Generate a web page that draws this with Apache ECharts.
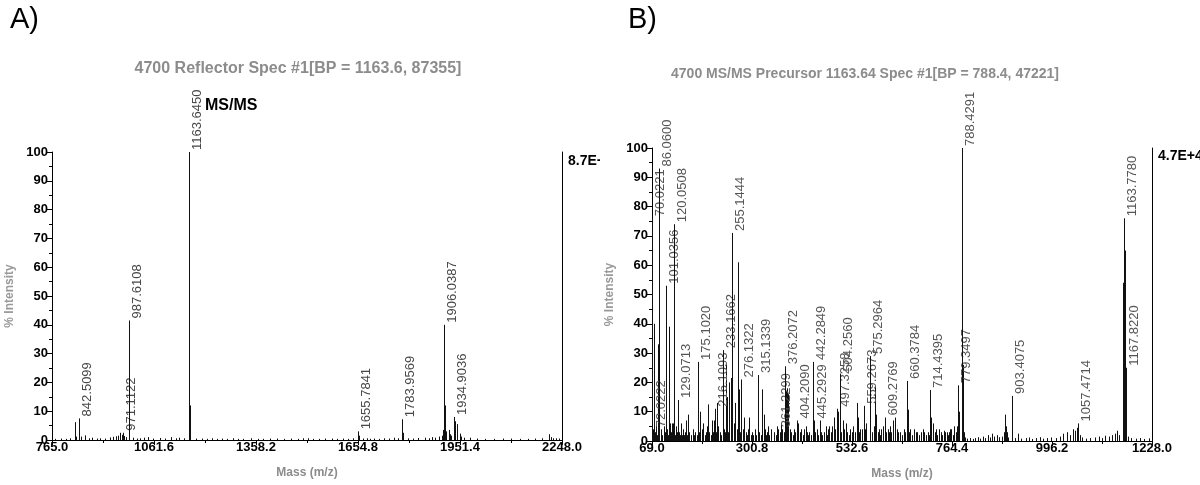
<!DOCTYPE html>
<html>
<head>
<meta charset="utf-8">
<script src="https://cdn.jsdelivr.net/npm/echarts@6/dist/echarts.min.js"></script>
<style>
    html, body { margin: 0; padding: 0; background: #fff; }
    .wrap { position: relative; width: 1200px; height: 485px; overflow: hidden; }
    .chart { position: absolute; top: 0; width: 600px; height: 485px; }
    .chartA { left: 0; }
    .chartB { left: 600px; }
</style>
</head>
<body>
<div class="wrap">
    <div id="chartA" class="chart chartA"></div>
    <div id="chartB" class="chart chartB"></div>
</div>
<script>
// ---- panel A: reflector MS spectrum ----
var ticksA = [765.0, 1061.6, 1358.2, 1654.8, 1951.4, 2248.0];
// labelled peaks [m/z, % intensity]
var labeledA = [
    [842.5099, 7.5], [971.1122, 2.5], [987.6108, 41.5], [1163.6450, 100],
    [1655.7841, 3], [1783.9569, 7.2], [1906.0387, 40], [1934.9036, 8]
];
// unlabelled peaks and noise [m/z, % intensity]
var minorA = [
    [775, 0.4], [790, 0.5], [805, 0.4], [818, 0.6], [831, 6.2], [836, 1.2], [848, 1.2], [860, 1.6],
    [872, 0.6], [880, 0.8], [895, 0.5], [905, 0.6], [920, 0.5], [935, 0.9], [942, 1.1], [950, 1.3],
    [958, 1.5], [964, 2.5], [968, 1.8], [975, 1.4], [980, 1.0], [988.6, 8], [989.6, 3], [1000, 0.8],
    [1012, 0.5], [1022, 0.6], [1032, 0.8], [1045, 1.0], [1060, 0.5], [1080, 0.7], [1095, 0.5],
    [1110, 1.0], [1125, 0.6], [1135, 0.8], [1150, 0.6], [1164.65, 52], [1165.65, 12], [1166.65, 2],
    [1185, 0.5], [1200, 0.5], [1215, 0.4], [1230, 0.6], [1245, 0.4], [1260, 0.5], [1275, 0.4],
    [1290, 0.6], [1305, 0.4], [1320, 0.4], [1345, 0.6], [1365, 0.4], [1380, 0.4], [1400, 0.5],
    [1420, 0.5], [1440, 0.4], [1460, 0.5], [1480, 0.4], [1495, 0.6], [1510, 0.6], [1525, 0.4],
    [1540, 0.4], [1560, 0.5], [1580, 0.5], [1595, 0.4], [1610, 0.5], [1625, 0.4], [1640, 0.6],
    [1656.8, 1.5], [1668, 0.5], [1680, 0.6], [1690, 0.4], [1700, 0.5], [1715, 0.4], [1730, 0.6],
    [1745, 0.5], [1760, 0.8], [1770, 0.6], [1784.96, 2.5], [1800, 0.6], [1815, 0.5], [1830, 0.7],
    [1850, 0.8], [1862, 0.6], [1870, 1.0], [1880, 0.8], [1890, 1.2], [1898, 1.5], [1903, 3.5],
    [1907.04, 12], [1908.04, 4], [1912, 3], [1918, 3.5], [1921, 2], [1926, 1.5], [1935.9, 6.5],
    [1936.9, 3], [1942, 5.5], [1943, 3], [1950, 2.2], [1955, 1.2], [1962, 0.8], [1980, 0.8],
    [2000, 0.5], [2025, 0.4], [2050, 0.4], [2075, 0.5], [2100, 0.5], [2125, 0.4], [2150, 0.4],
    [2170, 0.5], [2190, 0.6], [2210, 2], [2215, 1], [2222, 0.6], [2232, 0.6], [2240, 0.5]
];

// ---- panel B: MS/MS spectrum of precursor 1163.64 ----
var ticksB = [69.0, 300.8, 532.6, 764.4, 996.2, 1228.0];
var labeledB = [
    [70.0221, 76], [72.0222, 4], [86.0600, 93], [101.0356, 53], [120.0508, 74], [129.0713, 14],
    [175.1020, 27], [216.1093, 11], [233.1662, 31], [255.1444, 71], [276.1322, 21],
    [315.1339, 22.5], [361.2299, 4], [376.2072, 25.5], [404.2090, 7], [442.2849, 27],
    [445.2929, 7], [497.3258, 11], [504.2560, 23], [559.2673, 12], [575.2964, 29],
    [609.2769, 8], [660.3784, 20.5], [714.4395, 17.4], [779.3497, 19], [788.4291, 100],
    [903.4075, 15.4], [1057.4714, 6], [1163.7780, 76], [1167.8220, 25]
];
var minorB = [
    [72.6, 40], [74.5, 7], [76, 3], [79, 6], [81, 2], [84.0, 33], [90, 4], [93, 2], [96, 5], [98, 3],
    [104, 4], [106, 2], [108.4, 39], [110.5, 6], [112, 3], [115, 6], [117, 3], [118.1, 6], [123, 2],
    [125, 5], [127, 3], [130.2, 9], [132, 3], [134, 2], [136.1, 6], [138, 2], [141, 4], [144, 2],
    [146, 3], [148.0, 7], [150, 2], [153.0, 9], [155, 3], [160, 2], [163, 4], [166, 2], [169, 3],
    [173, 2], [178, 3], [181.0, 10], [184, 2], [186, 4], [188.1, 6], [191, 2], [194, 3], [196, 5],
    [198.0, 12.5], [200, 3], [205, 2], [208.0, 7], [210, 3], [213.0, 7], [218, 3], [220.5, 13],
    [223, 5], [226, 3], [229, 2], [236, 4], [238, 3], [240.5, 26], [242.0, 15], [244, 5], [246, 3],
    [248.0, 20], [251.5, 21.5], [258, 3], [260, 6], [262.0, 13], [265, 4], [267.6, 61], [269, 5],
    [271.0, 17.6], [274, 3], [279, 4], [281, 2], [283.0, 8], [286, 3], [289, 2], [292, 4],
    [295.0, 8], [298, 2], [301, 3], [304, 2], [308, 4], [311, 2], [318, 3], [321, 2], [325.0, 17.6],
    [327.5, 9], [330, 4], [333, 2], [336, 3], [338.0, 5], [341, 2], [344, 4], [352, 3], [356, 2],
    [359, 5], [365, 3], [368, 6], [371, 4], [374, 3], [380.0, 17], [382.5, 18], [385.0, 16],
    [388, 4], [391, 3], [395, 2], [398, 4], [401, 3], [408, 6], [411, 3], [415, 4], [418, 2],
    [421, 4], [425, 5], [428, 3], [431, 2], [434, 3], [437, 2], [443.5, 6], [447, 3], [451, 4],
    [454, 2], [458, 7], [461, 3], [464, 2], [468, 3], [472, 5], [475, 2], [478, 4], [480.0, 5],
    [484, 3], [487, 5], [490.0, 8], [494, 4], [500.5, 10], [508, 3], [512.0, 7], [515, 4],
    [518.0, 6], [522, 3], [526, 2], [529, 4], [533, 3], [536, 5], [539, 3], [543.5, 13], [546.0, 8],
    [549, 3], [552, 4], [555, 4], [562, 4], [566, 6], [580, 3], [583, 5], [586.0, 18.5],
    [588.5, 9], [592, 3], [595, 4], [597, 2], [600.0, 4], [605, 5], [612, 3], [615, 4], [618, 3],
    [621, 5], [624, 3], [628, 7], [632.0, 8], [636, 4], [640, 3], [644, 3], [648, 2], [652, 4],
    [656, 3], [661.5, 10.7], [665, 3], [668, 4], [672, 2], [676, 4], [680, 3], [684, 3], [688, 2],
    [692, 3], [697, 4], [700, 3], [704, 2], [708, 3], [711, 2], [716.5, 8], [720.0, 6], [724, 3],
    [727, 4], [730, 2], [735, 4], [738, 3], [741, 2], [745, 3.5], [748, 3], [752, 3], [755, 2],
    [758, 3], [760, 4], [763, 4], [766, 2], [770, 5], [773, 3], [776, 5], [781.0, 10], [789.4, 26],
    [793, 3], [795, 1.2], [800, 0.8], [806, 1], [812, 0.7], [818, 1], [825, 1.3], [830, 0.8],
    [836, 1.5], [842, 1], [848, 2], [853, 1.2], [858, 2.5], [862, 1.5], [868, 2], [873, 1.3],
    [880, 1.5], [884, 3], [886.5, 9], [889, 5], [892, 3], [895, 1.2], [910, 1], [918, 2.5],
    [925, 0.8], [935, 1], [942, 1.2], [950, 0.7], [960, 1], [968, 1.3], [975, 0.8], [985, 1],
    [995, 1.2], [1005, 1], [1015, 1.5], [1022, 2.5], [1030, 3], [1038, 2], [1045, 4], [1050, 3.5],
    [1053, 4.5], [1060, 2], [1066, 1.2], [1075, 0.8], [1085, 1], [1095, 1.2], [1105, 1.5],
    [1112, 1], [1120, 1.8], [1128, 1.5], [1135, 2], [1142, 2.5], [1148, 3.5], [1152, 2],
    [1161.0, 54], [1164.8, 65], [1172, 1.5], [1180, 1], [1190, 0.8], [1200, 1], [1210, 0.7],
    [1220, 0.9]
];

var AXIS_FONT = '"Liberation Sans", Arial, sans-serif';

function stickSeries(data, color) {
    return {
        type: 'custom',
        data: data,
        clip: false,
        silent: true,
        renderItem: function (params, api) {
            var top = api.coord([api.value(0), api.value(1)]);
            var base = api.coord([api.value(0), 0]);
            var x = Math.round(top[0]) + 0.5;
            return {
                type: 'line',
                shape: { x1: x, y1: base[1], x2: x, y2: top[1] },
                style: { stroke: color, lineWidth: 1 }
            };
        }
    };
}

function labelSeries(data, color, textColor) {
    return {
        type: 'custom',
        data: data,
        clip: false,
        silent: true,
        z: 5,
        renderItem: function (params, api) {
            var m = api.value(0);
            var top = api.coord([m, api.value(1)]);
            var base = api.coord([m, 0]);
            var x = Math.round(top[0]) + 0.5;
            return {
                type: 'group',
                children: [
                    {
                        type: 'line',
                        shape: { x1: x, y1: base[1], x2: x, y2: top[1] },
                        style: { stroke: color, lineWidth: 1 }
                    },
                    {
                        type: 'text',
                        x: x + 1,
                        y: top[1] - 2,
                        rotation: Math.PI / 2,
                        style: {
                            text: m.toFixed(4),
                            fill: textColor,
                            font: '13px ' + AXIS_FONT,
                            align: 'left',
                            verticalAlign: 'top'
                        }
                    }
                ]
            };
        }
    };
}

function makeOption(cfg) {
    var t = cfg.ticks;
    var step = Math.round((t[1] - t[0]) * 10) / 10;
    return {
        backgroundColor: '#fff',
        animation: false,
        grid: cfg.grid,
        xAxis: {
            type: 'value',
            min: t[0],
            max: t[t.length - 1],
            interval: step,
            name: 'Mass (m/z)',
            nameLocation: 'middle',
            nameGap: 27,
            nameTextStyle: { color: '#8c8c8c', fontWeight: 'bold', fontSize: 12, fontFamily: AXIS_FONT },
            axisLine: { lineStyle: { color: '#000', width: 1 } },
            axisTick: { length: 5, lineStyle: { color: '#000' } },
            minorTick: { show: true, splitNumber: 2, length: 3, lineStyle: { color: '#000' } },
            splitLine: { show: false },
            axisLabel: {
                margin: 1,
                color: '#000',
                fontWeight: 'bold',
                fontSize: 13,
                fontFamily: AXIS_FONT,
                formatter: function (v) { return v.toFixed(1); }
            }
        },
        yAxis: [
            {
                type: 'value',
                min: 0,
                max: 100,
                interval: 10,
                name: '% Intensity',
                nameLocation: 'middle',
                nameGap: 35,
                nameTextStyle: { color: '#999', fontWeight: 'bold', fontSize: 12, fontFamily: AXIS_FONT },
                axisLine: { show: true, lineStyle: { color: '#000', width: 1 } },
                axisTick: { show: true, length: 5, lineStyle: { color: '#000' } },
                minorTick: { show: true, splitNumber: 2, length: 3, lineStyle: { color: '#000' } },
                splitLine: { show: false },
                axisLabel: { margin: 4, color: '#000', fontWeight: 'bold', fontSize: 13, fontFamily: AXIS_FONT }
            },
            {
                type: 'value',
                min: 0,
                max: 100,
                position: 'right',
                axisLine: { show: true, lineStyle: { color: '#000', width: 1 } },
                axisTick: { show: false },
                axisLabel: { show: false },
                splitLine: { show: false }
            }
        ],
        graphic: cfg.graphic,
        series: [
            stickSeries(cfg.minor, '#111'),
            labelSeries(cfg.labeled, '#111', cfg.labelColor)
        ]
    };
}

var chartA = echarts.init(document.getElementById('chartA'), null, { renderer: 'canvas' });
chartA.setOption(makeOption({
    ticks: ticksA,
    grid: { left: 52, right: 38, top: 152, bottom: 45, containLabel: false, outerBoundsMode: 'none' },
    minor: minorA,
    labeled: labeledA,
    labelColor: '#474747',
    graphic: [
        { type: 'text', x: 10, y: 20, style: { text: 'A)', font: '29px ' + AXIS_FONT, fill: '#000', align: 'left', verticalAlign: 'middle' } },
        { type: 'text', x: 298, y: 69, style: { text: '4700 Reflector Spec #1[BP = 1163.6, 87355]', font: 'bold 16px ' + AXIS_FONT, fill: '#8c8c8c', align: 'center', verticalAlign: 'middle' } },
        { type: 'text', x: 205, y: 106, style: { text: 'MS/MS', font: 'bold 16px ' + AXIS_FONT, fill: '#000', align: 'left', verticalAlign: 'middle' } },
        { type: 'text', x: 568, y: 161, style: { text: '8.7E+4', font: 'bold 14px ' + AXIS_FONT, fill: '#000', align: 'left', verticalAlign: 'middle' } }
    ]
}));

var chartB = echarts.init(document.getElementById('chartB'), null, { renderer: 'canvas' });
chartB.setOption(makeOption({
    ticks: ticksB,
    grid: { left: 52, right: 48, top: 148, bottom: 44, containLabel: false, outerBoundsMode: 'none' },
    minor: minorB,
    labeled: labeledB,
    labelColor: '#555',
    graphic: [
        { type: 'text', x: 28, y: 20, style: { text: 'B)', font: '29px ' + AXIS_FONT, fill: '#000', align: 'left', verticalAlign: 'middle' } },
        { type: 'text', x: 265, y: 74, style: { text: '4700 MS/MS Precursor 1163.64 Spec #1[BP = 788.4, 47221]', font: 'bold 14px ' + AXIS_FONT, fill: '#8c8c8c', align: 'center', verticalAlign: 'middle' } },
        { type: 'text', x: 558, y: 156, style: { text: '4.7E+4', font: 'bold 14px ' + AXIS_FONT, fill: '#000', align: 'left', verticalAlign: 'middle' } }
    ]
}));
</script>
</body>
</html>
